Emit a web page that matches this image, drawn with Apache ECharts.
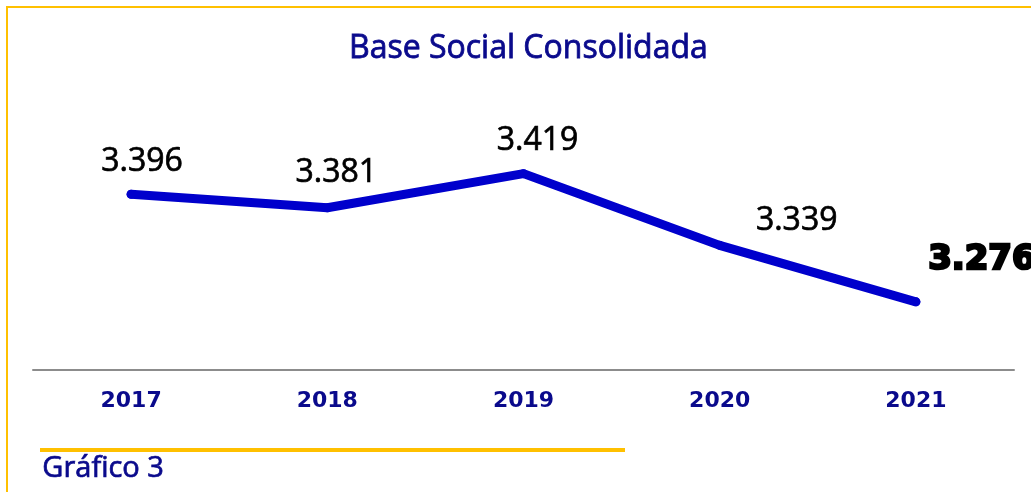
<!DOCTYPE html>
<html>
<head>
<meta charset="utf-8">
<script src="https://cdn.jsdelivr.net/npm/echarts@6/dist/echarts.min.js"></script>
<style>
html, body { margin: 0; padding: 0; background: #fff; }
#chart { width: 1031px; height: 492px; }
</style>
</head>
<body>
<div id="chart"></div>
<script>
// dados
const years = ['2017', '2018', '2019', '2020', '2021'];
const baseSocial = [3396, 3381, 3419, 3339, 3276];

// deslocamento dos rótulos (posição, não dados)
const labelOffsets = [[11, -12], [9, -14], [14, -12], [77, -4], [66, -20]];

function fmt(v) {
    // separador de milhar com ponto
    return String(v).replace(/\B(?=(\d{3})+(?!\d))/g, '.');
}

const chart = echarts.init(document.getElementById('chart'));

const points = baseSocial.map((v, i) => {
    const last = i === baseSocial.length - 1;
    return {
        value: v,
        label: {
            offset: labelOffsets[i],
            fontFamily: last ? 'DejaVu Sans' : 'Open Sans',
            fontWeight: last ? 'bold' : 'normal',
            textBorderColor: '#000',
            textBorderWidth: last ? 2.5 : 0.7,
            fontSize: last ? 34 : 32
        }
    };
});

const option = {
    animation: false,
    backgroundColor: '#fff',
    title: {
        text: 'Base Social Consolidada',
        left: 344,
        top: 28,
        textStyle: {
            fontFamily: 'Open Sans',
            fontSize: 32,
            fontWeight: 'normal',
            color: '#0a0a8c',
            textBorderColor: '#0a0a8c',
            textBorderWidth: 0.8
        }
    },
    grid: {
        left: 33,
        right: 17,
        top: 101,
        bottom: 122
    },
    xAxis: {
        type: 'category',
        data: years,
        boundaryGap: true,
        axisLine: { lineStyle: { color: '#8c8c8c', width: 2 } },
        axisTick: { show: false },
        axisLabel: {
            margin: 20,
            fontFamily: 'DejaVu Sans',
            fontWeight: 'bold',
            fontSize: 22,
            color: '#0a0a8c'
        }
    },
    yAxis: {
        type: 'value',
        min: 3200,
        max: 3500,
        show: false,
        splitLine: { show: false }
    },
    series: [{
        type: 'line',
        data: points,
        symbol: 'circle',
        symbolSize: 9,
        itemStyle: { color: '#0000cc' },
        lineStyle: { color: '#0000cc', width: 9, cap: 'round', join: 'round' },
        label: {
            show: true,
            position: 'top',
            distance: 0,
            color: '#000',
            formatter: p => fmt(p.value)
        }
    }],
    graphic: [
        // moldura amarela
        { type: 'rect', shape: { x: 6, y: 6, width: 2, height: 486 }, style: { fill: '#ffc000' } },
        { type: 'rect', shape: { x: 6, y: 6, width: 1025, height: 2 }, style: { fill: '#ffc000' } },
        // linha amarela inferior
        { type: 'rect', shape: { x: 40, y: 448, width: 585, height: 4 }, style: { fill: '#ffc000' } },
        {
            type: 'text',
            left: 42,
            top: 454,
            style: {
                text: 'Gráfico 3',
                fontFamily: 'Open Sans',
                fontSize: 29,
                fill: '#0a0a8c',
                stroke: '#0a0a8c',
                lineWidth: 0.7
            }
        }
    ]
};

chart.setOption(option);
</script>
</body>
</html>
